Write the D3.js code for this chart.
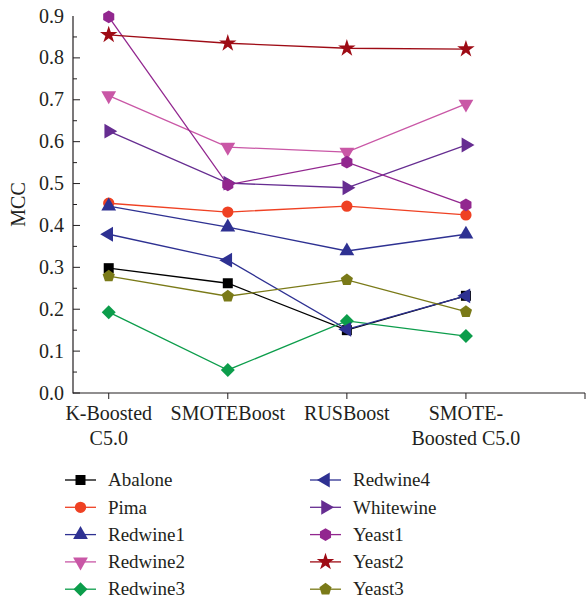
<!DOCTYPE html>
<html>
<head>
<meta charset="utf-8">
<script src="https://cdn.jsdelivr.net/npm/d3@7"></script>
<style>
body { margin: 0; background: #fff; }
</style>
</head>
<body>
<svg id="chart"></svg>
<script>
// categories on the x axis (each can hold two lines)
var methods = [["K-Boosted", "C5.0"], ["SMOTEBoost"], ["RUSBoost"], ["SMOTE-", "Boosted C5.0"]];
var yTicks = [0.0, 0.1, 0.2, 0.3, 0.4, 0.5, 0.6, 0.7, 0.8, 0.9];

var datasets = ["Abalone", "Pima", "Redwine1", "Redwine2", "Redwine3",
                "Redwine4", "Whitewine", "Yeast1", "Yeast2", "Yeast3"];

var abalone   = [0.298, 0.262, 0.150, 0.232];
var pima      = [0.453, 0.432, 0.446, 0.425];
var redwine1  = [0.446, 0.396, 0.339, 0.379];
var redwine2  = [0.710, 0.587, 0.575, 0.690];
var redwine3  = [0.193, 0.055, 0.172, 0.136];
var redwine4  = [0.379, 0.317, 0.152, 0.232];
var whitewine = [0.625, 0.501, 0.490, 0.592];
var yeast1    = [0.898, 0.497, 0.551, 0.449];
var yeast2    = [0.855, 0.835, 0.823, 0.821];
var yeast3    = [0.279, 0.231, 0.270, 0.194];

var values = [abalone, pima, redwine1, redwine2, redwine3, redwine4, whitewine, yeast1, yeast2, yeast3];
var colors = ["#000000", "#ef4123", "#2e3192", "#c957a6", "#0c9d4b",
              "#2e3192", "#662d91", "#92278f", "#9e0b15", "#7a7a18"];
var shapes = ["square", "circle", "up", "down", "diamond", "left", "right", "hexagon", "star", "pentagon"];

var W = 586, H = 603;
var FONT = "'Liberation Serif', 'Times New Roman', Times, 'DejaVu Serif', serif";
var svg = d3.select("#chart").attr("width", W).attr("height", H)
  .attr("font-family", FONT);

var x = d3.scaleLinear().domain([0.7, 5]).range([73, 585]);
var y = d3.scaleLinear().domain([0, 0.9]).range([393, 16]);

// polygon helper for pentagon / hexagon markers
function polygon(n, r, rot) {
  var pts = d3.range(n).map(function(i) {
    var a = rot + i * 2 * Math.PI / n;
    return [r * Math.sin(a), -r * Math.cos(a)];
  });
  return "M" + pts.join("L") + "Z";
}

function markerPath(kind) {
  switch (kind) {
    case "square": return d3.symbol(d3.symbolSquare, 100)();
    case "circle": return d3.symbol(d3.symbolCircle, 100)();
    case "up": case "down": case "left": case "right":
      return d3.symbol(d3.symbolTriangle, 95)();
    case "diamond": return polygon(4, 7, 0);
    case "hexagon": return polygon(6, 6.4, 0);
    case "star": return d3.symbol(d3.symbolStar, 95)();
    case "pentagon": return polygon(5, 6.4, 0);
  }
}
function markerRot(kind) {
  return { down: 180, left: -90, right: 90 }[kind] || 0;
}

function label(sel) {
  return sel.attr("font-family", FONT).attr("fill", "#231f20");
}

// axes
var g = svg.append("g");
g.append("line").attr("x1", 73).attr("x2", 73).attr("y1", y(0.9)).attr("y2", y(0) + 0.5)
  .attr("stroke", "#231f20").attr("stroke-width", 1.2);
g.append("line").attr("x1", 73).attr("x2", 585).attr("y1", y(0)).attr("y2", y(0))
  .attr("stroke", "#231f20").attr("stroke-width", 1.2);

// y ticks, inward, with minor ticks
d3.range(0, 18).forEach(function(i) {
  var v = i * 0.05;
  var major = i % 2 === 0;
  g.append("line").attr("x1", 73).attr("x2", 73 + (major ? 7 : 4))
    .attr("y1", y(v)).attr("y2", y(v))
    .attr("stroke", "#231f20").attr("stroke-width", 1);
});
yTicks.forEach(function(v) {
  label(g.append("text")).attr("x", 64).attr("y", y(v)).attr("dy", "0.33em")
    .attr("text-anchor", "end").attr("font-size", 20).text(v.toFixed(1));
});

// x ticks, outward
[1, 2, 3, 4, 5].forEach(function(i) {
  g.append("line").attr("x1", x(i)).attr("x2", x(i)).attr("y1", y(0)).attr("y2", y(0) + 6)
    .attr("stroke", "#231f20").attr("stroke-width", 1);
});
methods.forEach(function(lines, i) {
  var t = label(g.append("text")).attr("text-anchor", "middle").attr("font-size", 20);
  lines.forEach(function(s, k) {
    t.append("tspan").attr("x", x(i + 1)).attr("y", 420 + k * 25).text(s);
  });
});

label(svg.append("text")).attr("transform", "translate(25," + y(0.45) + ") rotate(-90)")
  .attr("text-anchor", "middle").attr("font-size", 20).text("MCC");

// series
var line = d3.line().x(function(d, i) { return x(i + 1); }).y(function(d) { return y(d); });
datasets.forEach(function(name, s) {
  var sg = svg.append("g");
  sg.append("path").attr("d", line(values[s])).attr("fill", "none")
    .attr("stroke", colors[s]).attr("stroke-width", 1.3);
  sg.selectAll("path.m").data(values[s]).enter().append("path").attr("class", "m")
    .attr("d", markerPath(shapes[s]))
    .attr("transform", function(d, i) {
      return "translate(" + x(i + 1) + "," + y(d) + ") rotate(" + markerRot(shapes[s]) + ")";
    })
    .attr("fill", colors[s]);
});

// legend, two columns of five
datasets.forEach(function(name, s) {
  var col = Math.floor(s / 5), row = s % 5;
  var lx = col === 0 ? 65 : 310, ly = 480 + row * 27.3;
  var lg = svg.append("g");
  lg.append("line").attr("x1", lx).attr("x2", lx + 31).attr("y1", ly).attr("y2", ly)
    .attr("stroke", colors[s]).attr("stroke-width", 1.3);
  lg.append("path").attr("d", markerPath(shapes[s]))
    .attr("transform", "translate(" + (lx + 15.5) + "," + ly + ") rotate(" + markerRot(shapes[s]) + ")")
    .attr("fill", colors[s]);
  label(lg.append("text")).attr("x", lx + 43).attr("y", ly).attr("dy", "0.33em")
    .attr("font-size", 19).text(name);
});
</script>
</body>
</html>
